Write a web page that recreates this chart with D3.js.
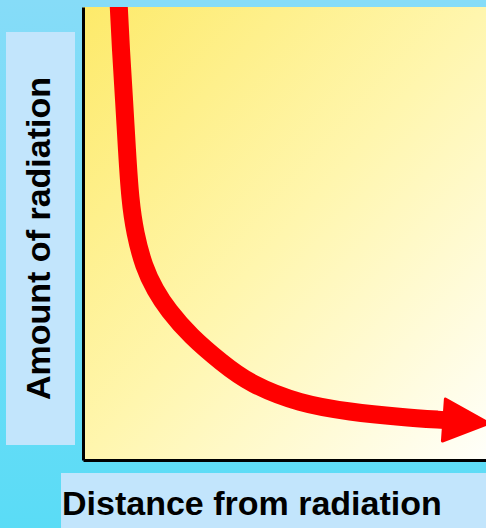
<html>
<head>
  <script src="https://d3js.org/d3.v7.min.js"></script>
  <style>
    body { margin: 0; }
    .label { font-family: "Liberation Sans", Arial, sans-serif; font-weight: bold; font-size: 34px; fill: #000; }
    .axis .domain { stroke: #000; stroke-width: 3px; }
  </style>
</head>
<body>
  <svg id="chart" width="486" height="528"></svg>
  <script>
    // distance (arbitrary units) vs amount of radiation
    const distance = [0.88, 0.94, 1.02, 1.09, 1.17, 1.29, 1.51, 1.79, 2.11, 2.66, 3.45, 4.14, 5.38, 6.63, 7.87, 8.98];
    const amount   = [10.15, 9.05, 7.95, 6.84, 5.74, 5.01, 4.26, 3.75, 3.31, 2.74, 2.14, 1.68, 1.24, 1.06, 0.95, 0.88];
    const xTitle = "Distance from radiation";
    const yTitle = "Amount of radiation";

    const svg = d3.select("#chart");
    const width = +svg.attr("width");
    const height = +svg.attr("height");
    const margin = {top: 7, right: 0, bottom: 68, left: 83};
    const chartWidth = width - margin.left - margin.right;
    const chartHeight = height - margin.top - margin.bottom;

    const defs = svg.append("defs");
    let bg = defs.append("linearGradient").attr("id", "bg")
                 .attr("x1", 0).attr("y1", 0).attr("x2", 0).attr("y2", 1);
    bg.append("stop").attr("offset", 0).attr("stop-color", "#86dcf8");
    bg.append("stop").attr("offset", 1).attr("stop-color", "#5adcf6");

    let plotFill = defs.append("linearGradient").attr("id", "plotFill")
                 .attr("x1", 0).attr("y1", 0).attr("x2", 1).attr("y2", 1);
    plotFill.append("stop").attr("offset", 0).attr("stop-color", "#fdea6a");
    plotFill.append("stop").attr("offset", 0.5).attr("stop-color", "#fff6ae");
    plotFill.append("stop").attr("offset", 1).attr("stop-color", "#fffffa");

    defs.append("clipPath").attr("id", "plotClip")
        .append("rect").attr("x", 0).attr("y", 0)
        .attr("width", chartWidth + 40).attr("height", chartHeight);

    defs.append("marker").attr("id", "arrow")
        .attr("markerUnits", "userSpaceOnUse")
        .attr("viewBox", "-3 -26 54 52")
        .attr("markerWidth", 54).attr("markerHeight", 52)
        .attr("refX", 1).attr("refY", 0)
        .attr("orient", "auto")
      .append("path")
        .attr("d", "M0,-21 L45,0 L0,21 Z")
        .attr("fill", "#ff0000")
        .attr("stroke", "#ff0000")
        .attr("stroke-width", 3)
        .attr("stroke-linejoin", "round");

    svg.append("rect").attr("width", width).attr("height", height).attr("fill", "url(#bg)");

    // label boxes
    svg.append("rect").attr("x", 6).attr("y", 32).attr("width", 69).attr("height", 413).attr("fill", "#c2e5fc");
    svg.append("rect").attr("x", 61).attr("y", 473).attr("width", width - 61).attr("height", 55).attr("fill", "#c2e5fc");

    const chartArea = svg.append("g").attr("transform", `translate(${margin.left},${margin.top})`);
    chartArea.append("rect").attr("width", chartWidth).attr("height", chartHeight).attr("fill", "url(#plotFill)");

    let xScale = d3.scaleLinear().domain([0, 10]).range([0, chartWidth]);
    let yScale = d3.scaleLinear().domain([0, 10]).range([chartHeight, 0]);

    let line = d3.line()
                 .x((d, i) => xScale(distance[i]))
                 .y((d, i) => yScale(amount[i]))
                 .curve(d3.curveBasis);

    chartArea.append("g").attr("clip-path", "url(#plotClip)")
      .append("path")
        .datum(distance)
        .attr("d", line)
        .attr("fill", "none")
        .attr("stroke", "#ff0000")
        .attr("stroke-width", 18)
        .attr("marker-end", "url(#arrow)");

    chartArea.append("g").attr("class", "axis")
        .call(d3.axisLeft(yScale).ticks(0).tickSizeOuter(0));
    chartArea.append("g").attr("class", "axis")
        .attr("transform", `translate(0,${chartHeight})`)
        .call(d3.axisBottom(xScale).ticks(0).tickSizeOuter(0));

    svg.append("text").attr("class", "label")
        .attr("x", 62).attr("y", 515)
        .text(xTitle);
    svg.append("text").attr("class", "label")
        .attr("transform", "translate(50,400) rotate(-90)")
        .text(yTitle);
  </script>
</body>
</html>
